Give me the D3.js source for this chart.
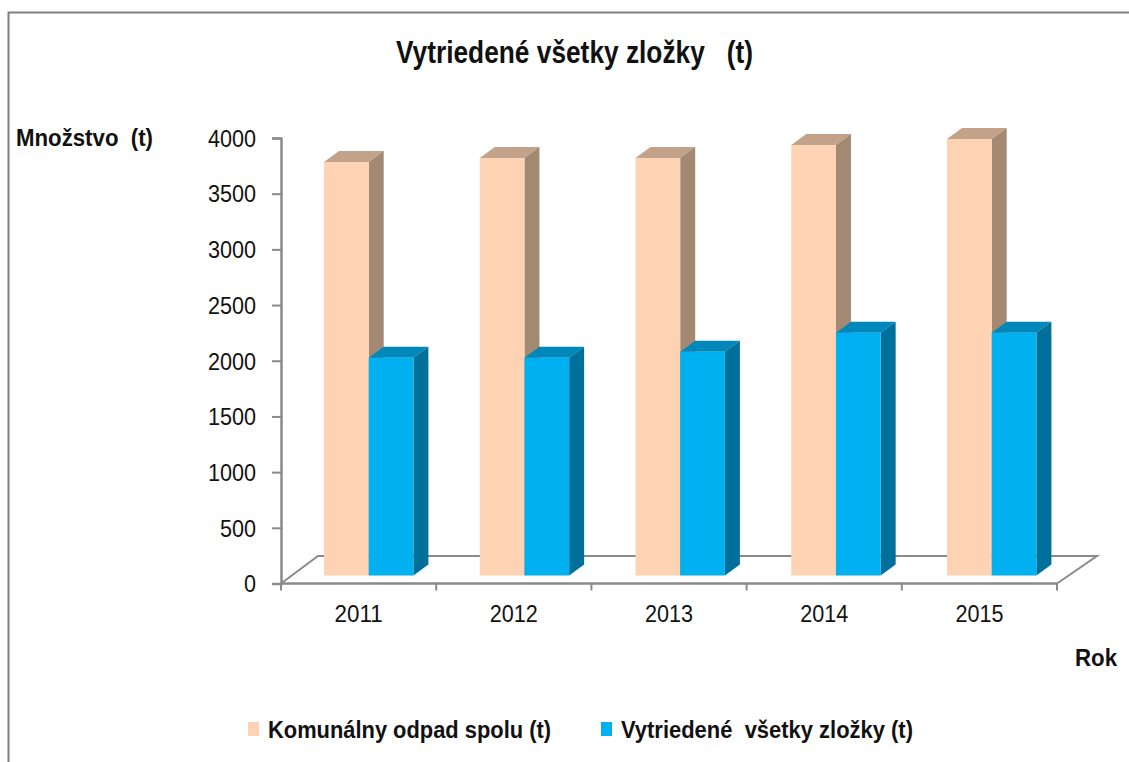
<!DOCTYPE html>
<html><head><meta charset="utf-8">
<script src="https://cdn.jsdelivr.net/npm/d3@7"></script>
<style>html,body{margin:0;padding:0;background:#fff}svg{display:block}text{font-family:"Liberation Sans",Arial,sans-serif;fill:#111}</style>
</head><body><div id="chart"></div>
<script>
const categories = ["2011","2012","2013","2014","2015"];
const seriesNames = ["Komunálny odpad spolu (t)","Vytriedené  všetky zložky (t)"];
const komunalny = [3712,3748,3748,3865,3919];
const vytriedene = [1955,1955,2009,2180,2180];
const yTicks = [0,500,1000,1500,2000,2500,3000,3500,4000];

const W=1129,H=762;
const svg=d3.select("#chart").append("svg").attr("width",W).attr("height",H);
const x0=281,x1=1057,yTop=138,yBase=583.5;
const dx=37,dy=28;           // floor depth
const bdx=15,bdy=11,lift=8;  // bar depth and offset from front of floor
const x=d3.scaleBand().domain(categories).range([x0,x1]);
const xBars=d3.scaleBand().domain(categories).range([x0+43,x0+43+5*155.75]);
const y=d3.scaleLinear().domain([0,4000]).range([yBase,yTop]);
const barW=44.7;
const axisCol="#8a8a8a";
const tickFont=23;

// frame
svg.append("path").attr("d",`M8.5,${H}V12.5H${W}`).attr("fill","none").attr("stroke","#808080").attr("stroke-width",2);

// floor
svg.append("path").attr("d",`M${x0},${yBase}L${x0+dx},${yBase-dy+.5}H${x1+dx+3}L${x1},${yBase}`)
  .attr("fill","none").attr("stroke",axisCol).attr("stroke-width",2);

// axes
const gy=svg.append("g").attr("transform",`translate(${x0},0)`).call(d3.axisLeft(y).tickValues(yTicks).tickSize(9).tickPadding(16).tickFormat(d3.format("d")));
const gx=svg.append("g").attr("transform",`translate(0,${yBase})`).call(d3.axisBottom(x).tickValues(categories).tickSize(0).tickPadding(22));
gx.select(".domain").remove();
svg.append("path").attr("d",`M${x0},${yBase}H${x1}`).attr("stroke",axisCol).attr("stroke-width",2.5);
gy.select(".domain").attr("stroke",axisCol).attr("stroke-width",2.5);
gy.selectAll("line").attr("stroke",axisCol).attr("stroke-width",2);
d3.range(categories.length+1).forEach(i=>{
  const t=x0+i*x.step();
  svg.append("line").attr("x1",t).attr("x2",t).attr("y1",yBase).attr("y2",yBase+7).attr("stroke",axisCol).attr("stroke-width",2);
});
[gy,gx].forEach(g=>g.selectAll("text")
  .attr("font-size",tickFont).attr("fill","#111").style("font-family",'"Liberation Sans"')
  .attr("lengthAdjust","spacingAndGlyphs")
  .attr("textLength",function(){return this.textContent.length*12;}));
gy.selectAll("text").attr("dy","0.36em");
gx.selectAll("text").attr("dy","0.72em");

// bars
const styles=[{f:"#FDD3B3",t:"#C2A288",s:"#A38971"},{f:"#00B0F0",t:"#0088BA",s:"#006F9A"}];
function bar(cat,v,k){
  const l=xBars(cat)+k*barW, r=l+barW, top=y(v)-lift, bot=yBase-lift, c=styles[k];
  const g=svg.append("g");
  g.append("path").attr("d",`M${l},${top}L${l+bdx},${top-bdy}H${r+bdx}L${r},${top}Z`).attr("fill",c.t);
  g.append("path").attr("d",`M${r},${top}L${r+bdx},${top-bdy}V${bot-bdy}L${r},${bot}Z`).attr("fill",c.s);
  g.append("rect").attr("x",l).attr("y",top).attr("width",barW).attr("height",bot-top).attr("fill",c.f);
}
categories.forEach((c,i)=>{bar(c,komunalny[i],0);bar(c,vytriedene[i],1);});

// texts
function label(s,px,py,size,len){
  const t=svg.append("text").attr("x",px).attr("y",py).attr("font-size",size).attr("font-weight","bold").attr("xml:space","preserve").style("white-space","pre").text(s);
  if(len) t.attr("textLength",len).attr("lengthAdjust","spacingAndGlyphs");
  return t;
}
label("Vytriedené všetky zložky   (t)",396,63,31,357);
label("Množstvo  (t)",16,146,23,137);
label("Rok",1075,666,23,42);
svg.append("rect").attr("x",248).attr("y",722).attr("width",11).attr("height",14).attr("fill",styles[0].f);
label(seriesNames[0],268,738,23,283);
svg.append("rect").attr("x",601).attr("y",722).attr("width",11).attr("height",14).attr("fill",styles[1].f);
label(seriesNames[1],621,738,23,292);
</script></body></html>
